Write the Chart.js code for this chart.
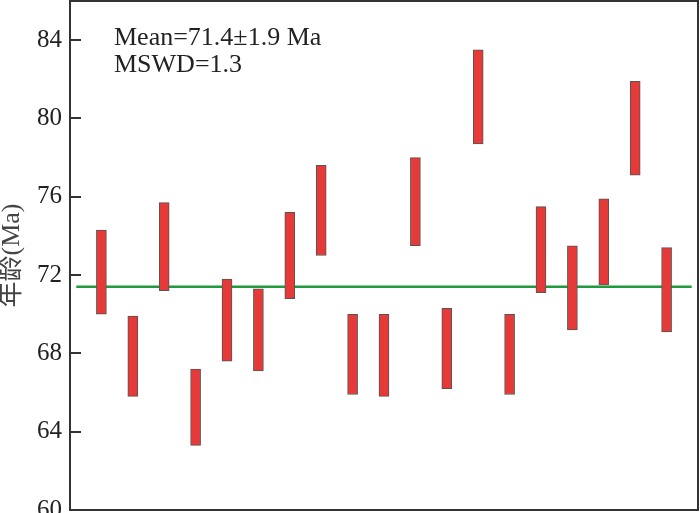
<!DOCTYPE html>
<html>
<head>
<meta charset="utf-8">
<script src="https://cdn.jsdelivr.net/npm/chart.js@4/dist/chart.umd.min.js"></script>
<style>
html,body{margin:0;padding:0;background:#fff;}
#wrap{width:700px;height:513px;position:relative;}
</style>
</head>
<body>
<div id="wrap"><canvas id="c" width="700" height="513"></canvas></div>
<script>
const samples = [1,2,3,4,5,6,7,8,9,10,11,12,13,14,15,16,17,18,19];
const lower = [70.0,65.8,71.2,63.3,67.6,67.1,70.8,73.0,65.9,65.8,73.5,66.2,78.7,65.9,71.1,69.2,71.5,77.1,69.1];
const upper = [74.3,69.9,75.7,67.2,71.8,71.3,75.2,77.6,70.0,70.0,78.0,70.3,83.5,70.0,75.5,73.5,75.9,81.9,73.4];
const meanAge = 71.4;
const meanSpan = [0.2, 19.8];
const yTicks = [60,64,68,72,76,80,84];
const annotationLines = ['Mean=71.4\u00b11.9 Ma', 'MSWD=1.3'];
const yTitle = '年龄(Ma)';

const serif = '"Liberation Serif","DejaVu Serif",serif';

const frame = {
  id: 'frame',
  afterDraw(chart) {
    const {ctx, chartArea: a, scales: {y}} = chart;
    ctx.save();
    ctx.strokeStyle = '#333';
    ctx.lineWidth = 2;
    ctx.strokeRect(a.left, a.top, a.right - a.left, a.bottom - a.top);
    ctx.beginPath();
    yTicks.forEach(v => {
      const py = Math.round(y.getPixelForValue(v));
      ctx.moveTo(a.left, py);
      ctx.lineTo(a.left + 11, py);
    });
    ctx.stroke();
    ctx.fillStyle = '#222';
    ctx.font = '26px ' + serif;
    ctx.textBaseline = 'alphabetic';
    ctx.textAlign = 'left';
    annotationLines.forEach((t, i) => ctx.fillText(t, a.left + 44, a.top + 44 + i * 27));
    ctx.restore();
  }
};

new Chart(document.getElementById('c'), {
  type: 'bar',
  data: {
    datasets: [
      {
        type: 'bar',
        order: 0,
        data: samples.map((s, i) => ({x: s, y: [lower[i], upper[i]]})),
        backgroundColor: '#e53a37',
        borderColor: '#555',
        borderWidth: 1,
        borderSkipped: false,
        barThickness: 10
      },
      {
        type: 'line',
        order: 1,
        data: meanSpan.map(x => ({x: x, y: meanAge})),
        borderColor: '#1f9a3c',
        borderWidth: 2.5,
        pointRadius: 0,
        fill: false
      }
    ]
  },
  options: {
    responsive: false,
    animation: false,
    events: [],
    layout: {padding: {top: 1, right: 2, bottom: 3, left: 0}},
    plugins: {legend: {display: false}, tooltip: {enabled: false}},
    scales: {
      x: {
        type: 'linear', min: 0, max: 20, offset: false, display: false
      },
      y: {
        min: 60, max: 86,
        afterFit(scale) { scale.width = 70; scale.paddingTop = 0; scale.paddingBottom = 0; },
        afterBuildTicks(scale) { scale.ticks = yTicks.map(v => ({value: v})); },
        grid: {display: false, drawTicks: false},
        border: {display: false},
        ticks: {
          padding: 8,
          color: '#222',
          font: {family: serif, size: 25}
        },
        title: {
          display: true,
          text: yTitle,
          color: '#444',
          padding: 0,
          font: {family: '"Liberation Serif","Noto Sans CJK SC",serif', size: 26, lineHeight: 0.9}
        }
      }
    }
  },
  plugins: [frame]
});
</script>
</body>
</html>
